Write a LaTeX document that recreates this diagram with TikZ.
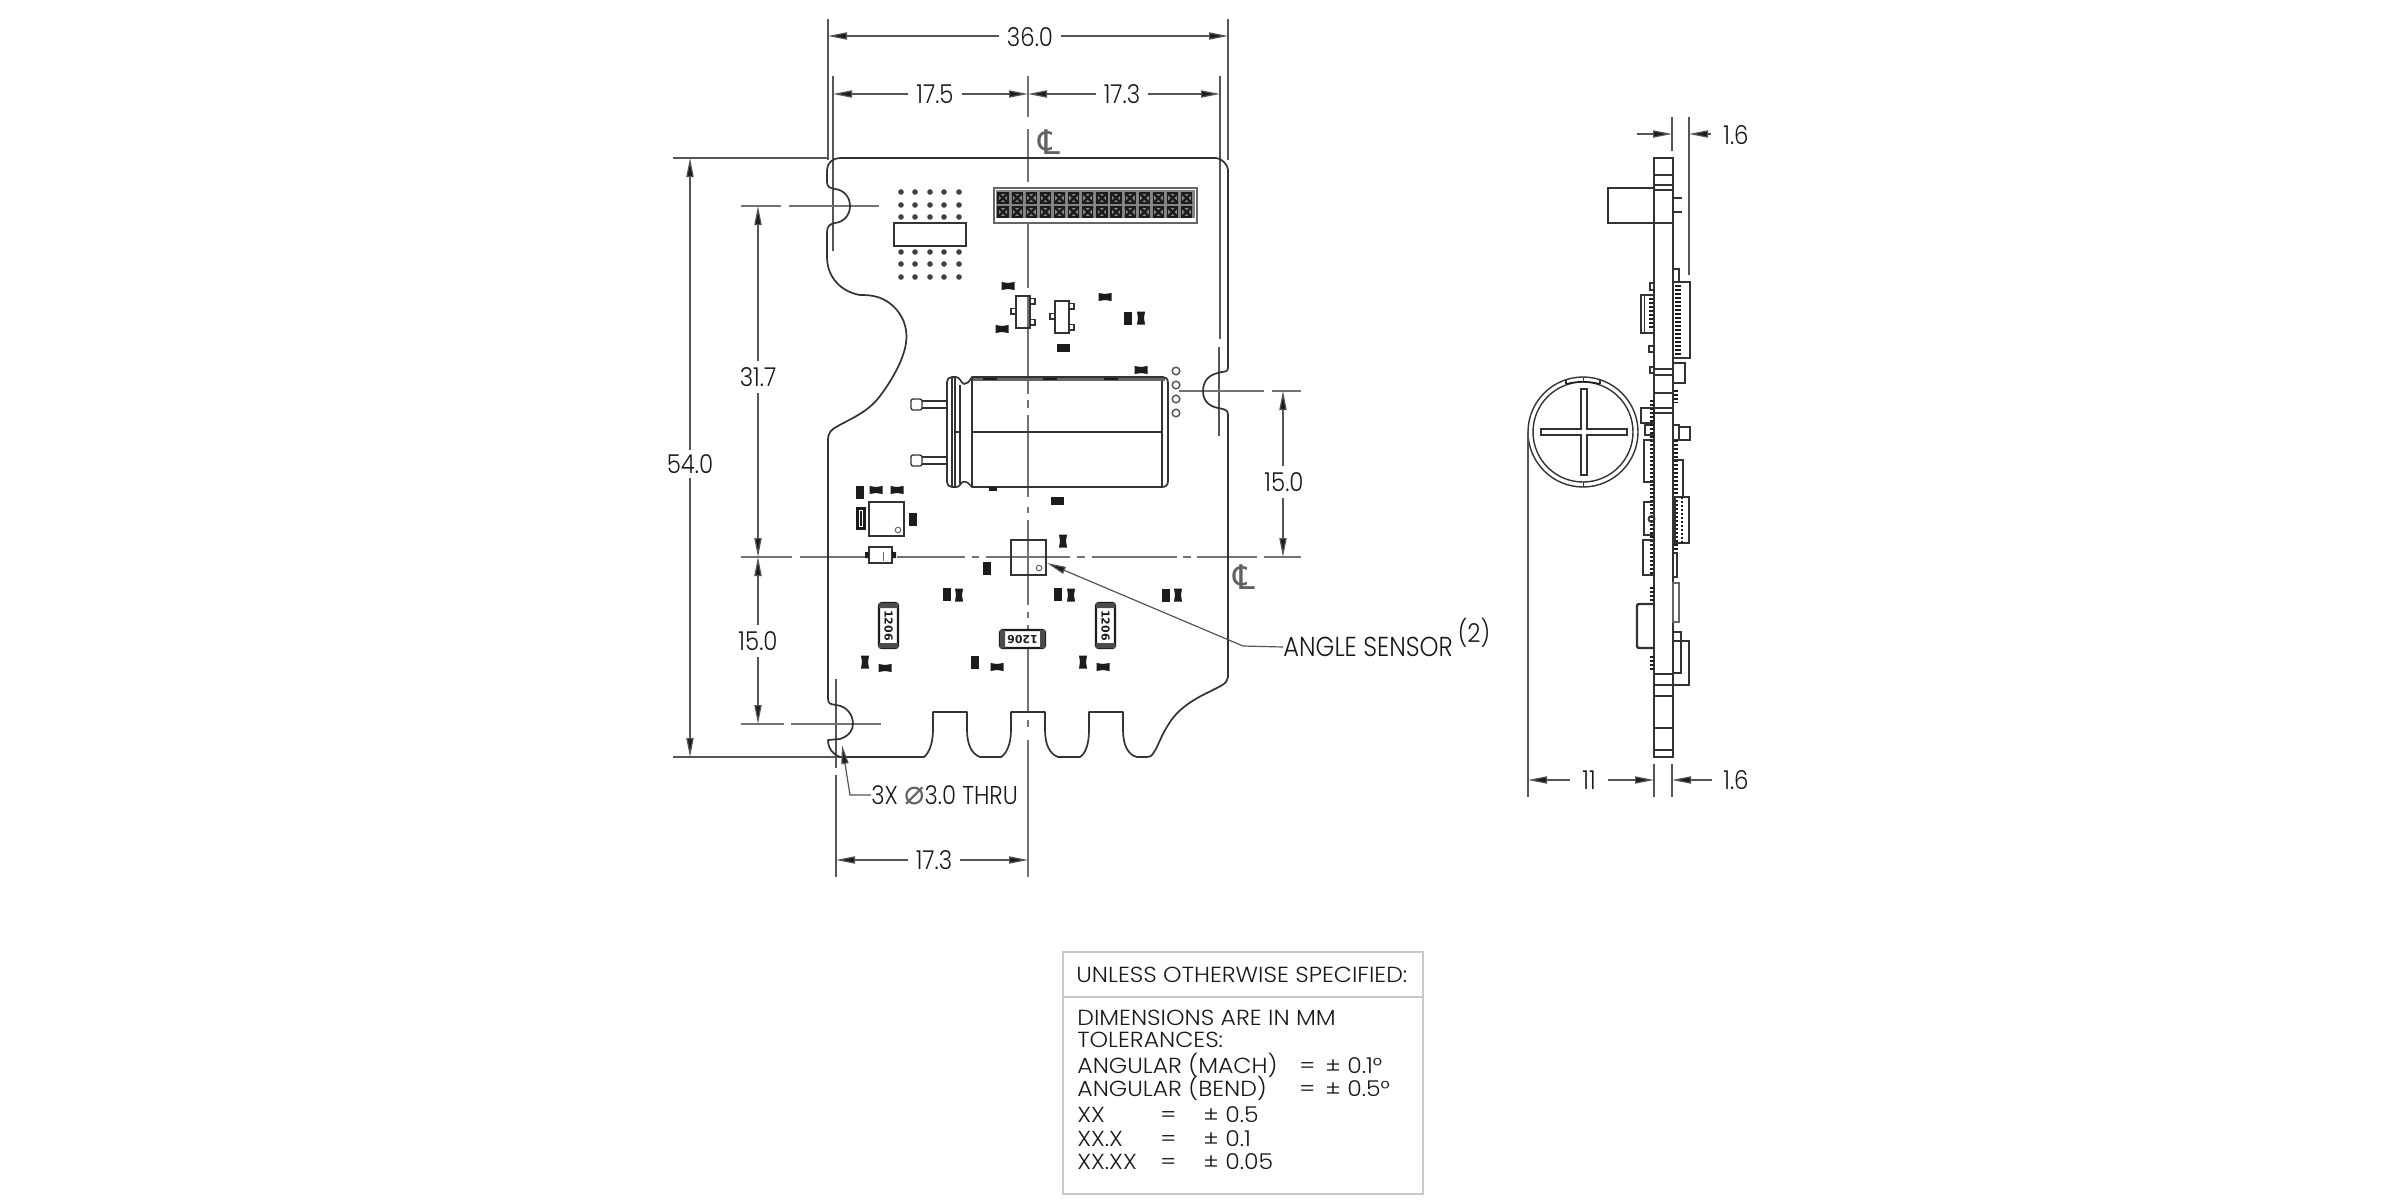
\documentclass[tikz,border=0pt]{standalone}
\usepackage{fontspec}
\setmainfont[FakeStretch=0.88,UprightFont=* Light]{Poppins}
\newfontfamily\widefont[FakeStretch=1.08,UprightFont=* Light]{Poppins}
\newfontfamily\djv{DejaVu Sans}
\usetikzlibrary{arrows.meta}
\definecolor{ink}{HTML}{333333}
\definecolor{dimc}{HTML}{555555}
\definecolor{padc}{HTML}{1C1C1C}
\definecolor{tabc}{HTML}{C9C9C9}
\newcommand\padH[2]{\fill[padc] (#1-6.5,#2-3.8) rectangle (#1+6.5,#2+3.8);}
\newcommand\padV[2]{\fill[padc] (#1-3.8,#2-6.5) rectangle (#1+3.8,#2+6.5);}
\newcommand\bowH[2]{\fill[padc] (#1-6.5,#2-4) -- (#1,#2-3) -- (#1+6.5,#2-4) -- (#1+6.5,#2+4) -- (#1,#2+3) -- (#1-6.5,#2+4) -- cycle;}
\newcommand\bowV[2]{\fill[padc] (#1-4,#2-6.5) -- (#1-3,#2) -- (#1-4,#2+6.5) -- (#1+4,#2+6.5) -- (#1+3,#2) -- (#1+4,#2-6.5) -- cycle;}
\newcommand\trans[2]{%
 \draw[part] (#1,#2) rectangle (#1+14,#2+32);
 \draw[thin part] (#1+14,#2+2.5) rectangle (#1+19,#2+8);
 \draw[thin part] (#1+14,#2+23.5) rectangle (#1+19,#2+29);
 \draw[thin part] (#1,#2+12.5) rectangle (#1-5,#2+18);}
\tikzset{
 part/.style={draw=ink,line width=0.8pt},
 thin part/.style={draw=ink,line width=0.7pt},
 outline/.style={draw=ink,line width=0.85pt,line join=round},
 dimline/.style={draw=dimc,line width=0.6pt},
 dimarrow/.style={dimline,{Triangle[length=9.5pt,width=3.6pt,fill=padc]}-{Triangle[length=9.5pt,width=3.6pt,fill=padc]}},
 cen/.style={draw=black!55,line width=0.75pt},
 lab/.style={font=\fontsize{13}{14}\selectfont,text=black!90,inner sep=0pt},
 dimlab/.style={lab,fill=white,inner xsep=4pt,inner ysep=1.5pt},
 tab/.style={font=\widefont\fontsize{10.9}{11}\selectfont,text=black!90,inner sep=0pt,anchor=west},
 hatchr/.style={draw=padc,line width=1.6pt,dash pattern=on 1.2pt off 0.8pt},
}
\begin{document}
\begin{tikzpicture}[x=0.5pt,y=-0.5pt]
\useasboundingbox (0,0) rectangle (2400,1200);
\fill[white] (0,0) rectangle (2400,1200);

% ---------- extension and centre lines
\draw[dimline] (828,19) -- (828,160);
\draw[dimline] (1228,19) -- (1228,160);
\draw[dimline] (833,76) -- (833,251);
\draw[dimline] (1220,76) -- (1220,339);
\draw[dimline] (1219,347) -- (1219,436);
\draw[dimline] (673,158) -- (828,158);
\draw[dimline] (673,757) -- (840,757);
\draw[dimline] (836,679) -- (836,768);
\draw[dimline] (836,775) -- (836,877);
\foreach \a/\b in {76/117,129/182,190/288,296/394,400/408,415/497,507/513,520/605,612/618,625/712,720/727,740/877}
  \draw[cen] (1028,\a) -- (1028,\b);
\foreach \a/\b in {741/792,800/865,897/965,972/979,986/1070,1077/1085,1092/1177,1183/1191,1197/1257,1264/1301}
  \draw[cen] (\a,557) -- (\b,557);
\foreach \a/\b in {741/781,789/879} \draw[cen,line width=0.65pt] (\a,206) -- (\b,206);
\foreach \a/\b in {741/784,791/881} \draw[cen,line width=0.65pt] (\a,724) -- (\b,724);
\foreach \a/\b in {1179/1264,1272/1301} \draw[cen,line width=0.65pt] (\a,391) -- (\b,391);

% ---------- board outline
\draw[outline]
 (840,158) -- (1216,158) to[out=0,in=90,looseness=0.8] (1228,170) -- (1228,368)
 .. controls (1228,373) and (1222,371) .. (1218,373)
 .. controls (1208,375) and (1203,382) .. (1203,391)
 .. controls (1203,400) and (1208,406) .. (1218,408)
 .. controls (1222,409) and (1228,409) .. (1228,414)
 -- (1228,677)
 .. controls (1228,684) and (1218,687) .. (1211,691)
 .. controls (1196,698) and (1180,707) .. (1170,722)
 .. controls (1160,737) and (1158,747) .. (1154,752)
 .. controls (1152,756) and (1150,757) .. (1146,757)
 -- (1137,757)
 .. controls (1128,755) and (1123,745) .. (1123,730)
 -- (1123,712) -- (1089,712) -- (1089,730)
 .. controls (1089,745) and (1085,754) .. (1080,757)
 -- (1058,757)
 .. controls (1050,754) and (1045,745) .. (1045,730)
 -- (1045,712) -- (1011,712) -- (1011,730)
 .. controls (1011,745) and (1006,754) .. (1001,757)
 -- (980,757)
 .. controls (972,754) and (967,745) .. (967,730)
 -- (967,712) -- (933,712) -- (933,730)
 .. controls (933,745) and (928,754) .. (924,757)
 -- (840,757)
 .. controls (833,755) and (828,748) .. (828,740)
 -- (840,739)
 .. controls (849,736) and (853,730) .. (853,724)
 .. controls (853,714) and (846,706) .. (836,705)
 .. controls (830,704) and (828,704) .. (828,698)
 -- (828,440)
 .. controls (828,432) and (832,429) .. (838,426)
 .. controls (852,418) and (868,412) .. (880,396)
 .. controls (892,380) and (900,365) .. (904,352)
 .. controls (910,332) and (904,318) .. (896,309)
 .. controls (884,296) and (872,295) .. (860,295)
 .. controls (842,292) and (827,278) .. (827,257)
 -- (827,232)
 .. controls (827,226) and (830,224) .. (835,223)
 .. controls (844,222) and (850,215) .. (850,206)
 .. controls (850,197) and (844,190) .. (835,189)
 .. controls (830,188) and (827,187) .. (827,182)
 -- (827,170)
 .. controls (827,163) and (833,158) .. (840,158) -- cycle;

% ---------- dots and rectangle
\foreach \x in {901,915,930,944,959}
  \foreach \y in {192,205,217,252,264,277}
    \fill[black!75] (\x,\y) circle[radius=2.8];
\draw[part] (894,223) rectangle (966,246);

% ---------- header connector
\draw[draw=black!60,fill=white,line width=0.8pt] (994,188) rectangle (1197,223);
\fill[black!48] (996,190) rectangle (1195,218);
\foreach \i in {0,...,13}
  \foreach \y in {198,212} {
    \pgfmathsetmacro\xx{1003+14.13*\i}
    \draw[padc,line width=1.2pt] (\xx-5,\y-5) -- (\xx+5,\y+5) (\xx-5,\y+5) -- (\xx+5,\y-5);
    \draw[padc,line width=0.6pt] (\xx-5,\y-5) rectangle (\xx+5,\y+5);
  }

% ---------- small parts
\trans{1016}{296}
\trans{1055}{301}
\bowH{1008}{286}\bowH{1002}{329}\bowH{1105}{297}
\padV{1128}{318}\bowV{1141}{318}\padH{1063}{348}
\bowH{1141}{370}\padH{1057}{501}
\padV{860}{492}\bowH{876}{490}\bowH{897}{490}
\fill[padc] (856,507) rectangle (866,530);
\fill[white] (859,510) rectangle (863,527);
\fill[padc] (860,511) rectangle (862,526);
\fill[padc] (909,513) rectangle (917,526);
\bowV{1063}{541}\padV{987}{568}
\padV{947}{594}\bowV{959}{595}\padV{1058}{594}\bowV{1071}{595}\padV{1166}{595}\bowV{1178}{595}
\bowV{865}{662}\bowH{885}{668}\padV{975}{662}\bowH{997}{667}\bowV{1083}{662}\bowH{1103}{667}

% ---------- capacitor
\fill[black!60] (972,377) rectangle (1165,381);
\foreach \a in {983,1043,1104} \fill[padc] (\a,377) rectangle (\a+14,380);
\draw[outline,fill=none]
 (972,377) -- (1163,377) .. controls (1166,377) and (1168,379) .. (1168,383)
 -- (1168,481) .. controls (1168,485) and (1166,487) .. (1162,487)
 -- (972,487) -- (968,483) .. controls (965,481) and (962,481) .. (960,485)
 .. controls (959,487) and (957,487) .. (955,487) -- (952,487)
 .. controls (949,487) and (947,485) .. (947,482) -- (947,382)
 .. controls (947,379) and (949,377) .. (952,377) -- (956,377)
 .. controls (960,377) and (961,383) .. (964,384)
 .. controls (967,384) and (969,382) .. (972,377) -- cycle;
\draw[part,line width=0.65pt] (972,377) -- (972,487) (1162,381) -- (1162,487)
 (952,378) -- (952,486) (955,378) -- (955,486) (960,385) -- (960,484)
 (972,432) -- (1162,432) (954,432) -- (960,432);
\fill[padc] (989,487) rectangle (997,491);
\foreach \y/\z in {401/408,457/464} {
  \draw[part,line width=0.65pt] (947,\y) -- (920,\y) (947,\z) -- (920,\z);
  \draw[part,line width=0.65pt,fill=white,rounded corners=1pt] (911,\y-2) rectangle (922,\z+2);
}
\foreach \y in {371,385,399,413} \draw[draw=black!65,line width=0.75pt] (1176,\y) circle[radius=3.8];

% ---------- chip, diode, sensor
\draw[part,line width=0.7pt] (869,502) rectangle (904,536);
\draw[black!60,line width=0.5pt] (898,530) circle[radius=2.8];
\draw[part] (869,547) rectangle (892,563);
\fill[padc] (865,552) rectangle (869,558) (892,552) rectangle (896,558);
\draw[black!60,line width=0.5pt] (883,552) -- (883,561);
\draw[part,line width=0.7pt] (1011,540) rectangle (1046,575);
\draw[black!60,line width=0.5pt] (1039,568) circle[radius=2.8];

% ---------- 1206 resistors
\foreach \x/\nm in {879/ra,1096/rb} {
  \draw[padc,line width=1.2pt,rounded corners=1.5pt,fill=white] (\x,603) rectangle (\x+19,648);
  \fill[black!70] (\x,603) rectangle (\x+19,608) (\x,643) rectangle (\x+19,648);
  \node[rotate=-90,inner sep=0pt,text=padc,font=\djv\bfseries\fontsize{5.5}{6}\selectfont] (\nm) at (\x+9.5,625.5) {1206};
}
\draw[padc,line width=1.2pt,rounded corners=1.5pt,fill=white] (1000,630) rectangle (1045,648);
\fill[black!70] (1000,630) rectangle (1005,648) (1040,630) rectangle (1045,648);
\node[rotate=180,inner sep=0pt,text=padc,font=\djv\bfseries\fontsize{5.5}{6}\selectfont] (rc) at (1022.5,639) {1206};

% ---------- dimensions, front view
\coordinate (a1) at (828,36); \coordinate (a2) at (1228,36);
\draw[dimarrow] (a1) -- (a2);
\node[dimlab] (d36) at (1030,37) {36.0};
\coordinate (b1) at (833,94); \coordinate (b2) at (1028,94); \coordinate (b3) at (1220,94);
\draw[dimarrow] (b1) -- (b2);
\draw[dimarrow] (b2) -- (b3);
\node[dimlab] (d175) at (935,94) {17.5};
\node[dimlab] (d173) at (1122,94) {17.3};
\coordinate (c1) at (690,158); \coordinate (c2) at (690,757);
\draw[dimarrow] (c1) -- (c2);
\node[dimlab,inner xsep=1pt,inner ysep=2pt] (d54) at (690,464) {54.0};
\coordinate (e1) at (758,206); \coordinate (e2) at (758,557); \coordinate (e3) at (758,724);
\draw[dimarrow] (e1) -- (e2);
\draw[dimarrow] (e2) -- (e3);
\node[dimlab,inner xsep=1pt,inner ysep=3pt] (d317) at (758,377) {31.7};
\node[dimlab,inner xsep=1pt,inner ysep=3pt] (d150a) at (758,641) {15.0};
\coordinate (f1) at (1283,391); \coordinate (f2) at (1283,557);
\draw[dimarrow] (f1) -- (f2);
\node[dimlab,inner xsep=1pt,inner ysep=3pt] (d150b) at (1284,482) {15.0};
\coordinate (g1) at (836,860); \coordinate (g2) at (1028,860);
\draw[dimarrow] (g1) -- (g2);
\node[dimlab] (d173b) at (934,860) {17.3};

% centre-line symbols
\node[inner sep=0pt,text=black!62,font=\djv\fontsize{17}{18}\selectfont] (cl1) at (1049,142) {℄};
\node[inner sep=0pt,text=black!62,font=\djv\fontsize{17}{18}\selectfont] (cl2) at (1244,577) {℄};

% ---------- leaders
\node[lab,anchor=west,font=\fontsize{12.9}{13}\selectfont] (hole) at (871,795) {3X {\djv\color{black!60}\fontsize{17}{17}\selectfont⌀}3.0 THRU};
\coordinate (holet) at (842,745);
\draw[dimline,{Triangle[length=9.5pt,width=3.6pt,fill=padc]}-] (holet) -- (850,795) -- (hole.west);
\node[lab,anchor=west,font=\fontsize{13.7}{14}\selectfont] (sens) at (1283,647) {ANGLE SENSOR};
\node[lab,font=\fontsize{13}{14}\selectfont] (sup) at (1474,633) {(2)};
\coordinate (senst) at (1047,563);
\draw[dimline,{Triangle[length=9.5pt,width=3.6pt,fill=padc]}-] (senst) -- (1243,646) -- (sens.west);

% ---------- side view: board
\draw[part,line width=0.7pt] (1654,158) rectangle (1673,757);
\foreach \y in {175,185,190,223,369,375,393,408,413,674,685,696,728,750}
  \draw[part,line width=0.55pt] (1654,\y) -- (1673,\y);
\draw[part,line width=0.7pt] (1654,188) -- (1608,188) -- (1608,223) -- (1654,223);
\draw[part,line width=0.7pt] (1673,198) -- (1682,198) (1673,212) -- (1682,212);

% side view: right parts
\draw[part,line width=0.7pt] (1673,269) rectangle (1679,282);
\draw[part,line width=0.7pt] (1673,282) rectangle (1690,358);
\draw[hatchr,line width=3pt] (1678,285) -- (1678,355);
\draw[part,line width=0.7pt] (1673,363) rectangle (1685,383);
\draw[hatchr] (1676,390) -- (1676,403);
\draw[part,line width=0.7pt] (1673,425) rectangle (1679,440);
\draw[part,line width=0.7pt] (1679,427) rectangle (1690,440);
\draw[hatchr] (1676,440) -- (1676,550);
\draw[part,line width=0.7pt] (1673,460) rectangle (1683,497);
\draw[part,line width=1.1pt] (1675,497) rectangle (1689,543);
\draw[hatchr,line width=1.2pt] (1682,497) -- (1682,543);
\draw[part,line width=0.7pt] (1673,553) rectangle (1677,577);
\draw[part,line width=0.6pt,draw=black!60] (1673,583) rectangle (1679,622);
\draw[part,line width=0.7pt] (1673,632) rectangle (1681,673);
\draw[part,line width=1.1pt] (1673,641) -- (1689,641) -- (1689,685) -- (1673,685);

% side view: left parts
\draw[part,line width=0.7pt] (1641,295) rectangle (1654,333);
\draw[part,line width=0.5pt] (1644,295) -- (1644,333);
\draw[hatchr] (1651,298) -- (1651,330);
\draw[part,line width=0.6pt] (1650,283) rectangle (1654,290);
\draw[part,line width=0.7pt] (1649,346) rectangle (1654,352);
\draw[part,line width=0.6pt] (1650,367) rectangle (1654,373);
\draw[part,line width=0.7pt] (1641,408) rectangle (1654,423);
\draw[part,line width=0.7pt] (1645,425) rectangle (1654,435);
\draw[hatchr] (1652,400) -- (1652,575);
\draw[part,line width=0.7pt] (1644,440) rectangle (1654,482);
\draw[part,line width=0.7pt] (1644,502) rectangle (1654,535);
\draw[part,line width=0.9pt] (1651.5,519) circle[radius=3];
\draw[part,line width=0.7pt] (1643,540) rectangle (1654,575);
\draw[hatchr] (1652,587) -- (1652,603);
\draw[part,line width=1.2pt,rounded corners=1pt] (1654,604) -- (1637,604) -- (1637,648) -- (1654,648);
\draw[hatchr] (1652,656) -- (1652,671);

% side view: disk
\draw[part,line width=0.7pt] (1583,432) circle[radius=55];
\draw[part,line width=0.7pt] (1583,432) circle[radius=50];
\draw[part,line width=0.55pt] (1566,384) -- (1566,380) (1600,384) -- (1600,380);
\draw[padc,line width=0.7pt] (1566,384) .. controls (1577,381) and (1589,381) .. (1600,384);
\draw[part,line width=0.5pt] (1583,377) -- (1583,382) (1583,482) -- (1583,487);
\draw[part,line width=0.65pt]
 (1581,389) -- (1587,389) -- (1587,429) -- (1627,429) -- (1627,435) -- (1587,435)
 -- (1587,475) -- (1581,475) -- (1581,435) -- (1541,435) -- (1541,429) -- (1581,429) -- cycle;

% side view: dimensions
\draw[dimline] (1672,117) -- (1672,151);
\draw[dimline] (1689,117) -- (1689,275);
\coordinate (h1) at (1637,134); \coordinate (h2) at (1672,134);
\coordinate (h3) at (1689,134); \coordinate (h4) at (1711,134);
\draw[dimline,-{Triangle[length=9.5pt,width=3.6pt,fill=padc]}] (h1) -- (h2);
\draw[dimline,-{Triangle[length=9.5pt,width=3.6pt,fill=padc]}] (h4) -- (h3);
\node[lab] (t16a) at (1736,135) {1.6};
\draw[dimline] (1528,432) -- (1528,797);
\draw[dimline] (1654,764) -- (1654,797);
\draw[dimline] (1672,764) -- (1672,797);
\coordinate (i1) at (1528,780); \coordinate (i2) at (1654,780);
\coordinate (i3) at (1672,780); \coordinate (i4) at (1712,780);
\draw[dimarrow] (i1) -- (i2);
\draw[dimline,-{Triangle[length=9.5pt,width=3.6pt,fill=padc]}] (i4) -- (i3);
\node[dimlab,inner xsep=6pt] (t11) at (1589,780) {11};
\node[lab] (t16b) at (1736,780) {1.6};

% ---------- note box
\draw[draw=tabc,line width=0.8pt] (1063,952) rectangle (1423,1194);
\draw[draw=tabc,line width=0.8pt] (1063,997) -- (1423,997);
\node[tab] (n0) at (1076,975) {UNLESS OTHERWISE SPECIFIED:};
\node[tab] (n1) at (1077,1018) {DIMENSIONS ARE IN MM};
\node[tab] (n2) at (1077,1040) {TOLERANCES:};
\node[tab] (n3) at (1077,1065) {\rlap{ANGULAR (MACH)}\hspace{111pt}\rlap{=}\hspace{13pt}± 0.1°};
\node[tab] (n4) at (1077,1088) {\rlap{ANGULAR (BEND)}\hspace{111pt}\rlap{=}\hspace{13pt}± 0.5°};
\node[tab] (n5) at (1077,1115) {\rlap{XX}\hspace{41.5pt}\rlap{=}\hspace{21.5pt}± 0.5};
\node[tab] (n6) at (1077,1139) {\rlap{XX.X}\hspace{41.5pt}\rlap{=}\hspace{21.5pt}± 0.1};
\node[tab] (n7) at (1077,1162) {\rlap{XX.XX}\hspace{41.5pt}\rlap{=}\hspace{21.5pt}± 0.05};
\end{tikzpicture}
\end{document}
